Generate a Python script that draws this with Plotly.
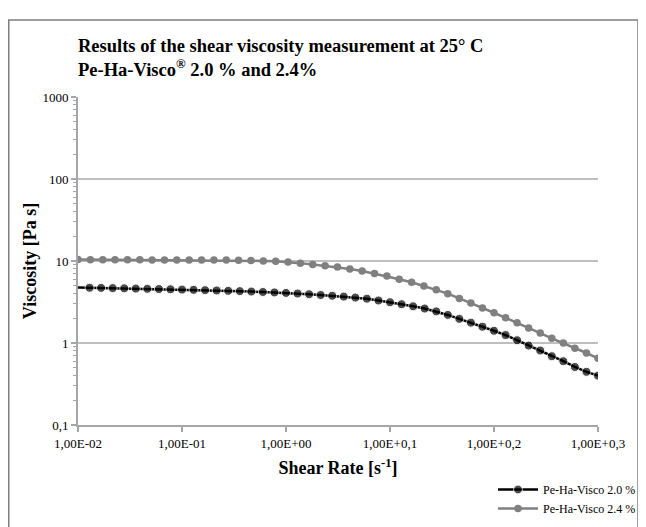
import plotly.graph_objects as go

# ---- data ----
shear_rate_20 = [0.01, 0.01292, 0.01668, 0.02154, 0.02783, 0.03594, 0.04642, 0.05995, 0.07743,
                 0.1, 0.1292, 0.1668, 0.2154, 0.2783, 0.3594, 0.4642, 0.5995, 0.7743,
                 1.0, 1.292, 1.668, 2.154, 2.783, 3.594, 4.642, 5.995, 7.743,
                 10.0, 12.92, 16.68, 21.54, 27.83, 35.94, 46.42, 59.95, 77.43,
                 100.0, 129.2, 166.8, 215.4, 278.3, 359.4, 464.2, 599.5, 774.3, 1000.0]
visc_20 = [4.75, 4.72, 4.70, 4.67, 4.64, 4.61, 4.58, 4.55, 4.52,
           4.48, 4.45, 4.41, 4.37, 4.33, 4.29, 4.24, 4.19, 4.14,
           4.08, 4.01, 3.93, 3.85, 3.77, 3.68, 3.58, 3.47, 3.30,
           3.14, 2.97, 2.80, 2.63, 2.43, 2.20, 1.97, 1.77, 1.58,
           1.41, 1.25, 1.08, 0.93, 0.81, 0.69, 0.60, 0.51, 0.445, 0.40]

shear_rate_24 = [0.01, 0.01315, 0.0173, 0.0227, 0.0299, 0.0393, 0.0516, 0.0679, 0.0891,
                 0.1172, 0.1542, 0.2028, 0.2667, 0.3499, 0.4603, 0.6053, 0.7962,
                 1.047, 1.374, 1.807, 2.377, 3.126, 4.111, 5.395, 7.096, 9.333,
                 12.27, 16.14, 21.18, 27.83, 35.94, 46.42, 59.95, 77.43,
                 100.0, 129.2, 166.8, 215.4, 278.3, 359.4, 464.2, 599.5, 774.3, 1000.0]
visc_24 = [10.4, 10.38, 10.36, 10.35, 10.34, 10.33, 10.32, 10.31, 10.3,
           10.29, 10.28, 10.27, 10.25, 10.2, 10.12, 10.02, 9.9,
           9.72, 9.42, 9.08, 8.75, 8.45, 8.0, 7.57, 7.05, 6.56,
           6.0, 5.5, 4.97, 4.47, 4.0, 3.5, 3.08, 2.68,
           2.34, 2.03, 1.77, 1.52, 1.32, 1.14, 1.0, 0.86, 0.755, 0.65]

x_tickvals = [0.01, 0.1, 1, 10, 100, 1000]
x_ticktext = ["1,00E-02", "1,00E-01", "1,00E+00", "1,00E+0,1", "1,00E+0,2", "1,00E+0,3"]
y_tickvals = [0.1, 1, 10, 100, 1000]
y_ticktext = ["0,1", "1", "10", "100", "1000"]
y_minor = [m * 10 ** e for e in (-1, 0, 1, 2) for m in range(2, 10)]

series_names = ["Pe-Ha-Visco 2.0 %", "Pe-Ha-Visco 2.4 %"]

FONT = "Liberation Serif"
AXIS_COL = "#A6A6A6"

fig = go.Figure()
fig.add_trace(go.Scatter(
    x=shear_rate_20, y=visc_20, name=series_names[0], mode="lines+markers",
    line=dict(color="#000000", width=2.5),
    marker=dict(color="#000000", size=[0] + [9] * (len(visc_20) - 1)),
))
fig.add_trace(go.Scatter(
    x=shear_rate_24, y=visc_24, name=series_names[1], mode="lines+markers",
    line=dict(color="#808080", width=2.5),
    marker=dict(color="#808080", size=7.5),
))

# figure sits 8px inside the page (body margin), so work in figure pixels
W, H = 638, 519
L, T = 70, 89
pw, ph = 520, 328
R, B = W - L - pw, H - T - ph

def px_x(px):
    return (px - L) / pw

def px_y(py):
    return (T + ph - py) / ph

fig.update_layout(
    width=W, height=H,
    margin=dict(l=L, r=R, t=T, b=B, autoexpand=False),
    paper_bgcolor="white", plot_bgcolor="white",
    font=dict(family=FONT, color="#000000"),
    title=dict(
        text="Results of the shear viscosity measurement at 25° C<br>Pe-Ha-Visco<sup>®</sup> 2.0 % and 2.4%",
        font=dict(family=FONT, size=18.5, color="#000000", weight="bold"),
        x=L / W, xanchor="left", y=1 - 44 / H, yanchor="top",
    ),
    xaxis=dict(
        type="log", range=[-2, 3], automargin=False,
        tickmode="array", tickvals=x_tickvals, ticktext=x_ticktext,
        tickfont=dict(family=FONT, size=13),
        showgrid=False, zeroline=False,
        showline=True, linecolor=AXIS_COL, linewidth=2,
        ticks="outside", ticklen=5, tickwidth=2, tickcolor=AXIS_COL,
        title=dict(text="<b>Shear Rate [s<sup>-1</sup>]</b>", font=dict(family=FONT, size=18), standoff=12),
    ),
    yaxis=dict(
        type="log", range=[-1, 3], automargin=False,
        tickmode="array", tickvals=y_tickvals, ticktext=y_ticktext,
        tickfont=dict(family=FONT, size=13),
        showgrid=True, gridcolor="#BFBFBF", gridwidth=2, zeroline=False,
        showline=True, linecolor=AXIS_COL, linewidth=2,
        ticks="outside", ticklen=5, tickwidth=2, tickcolor=AXIS_COL,
        minor=dict(tickmode="array", tickvals=y_minor, ticks="outside", ticklen=3,
                   tickwidth=1, tickcolor=AXIS_COL, showgrid=False),
        title=dict(text="<b>Viscosity [Pa s]</b>", font=dict(family=FONT, size=18), standoff=1),
    ),
    legend=dict(
        x=px_x(633), xanchor="right", y=px_y(467), yanchor="top",
        font=dict(family=FONT, size=12), bgcolor="rgba(0,0,0,0)",
        itemwidth=40, tracegroupgap=0,
    ),
    showlegend=True,
    shapes=[dict(type="rect", xref="paper", yref="paper",
                 x0=px_x(0.75), x1=px_x(630), y0=px_y(560), y1=px_y(12),
                 line=dict(color="#7F7F7F", width=1.5), fillcolor="rgba(0,0,0,0)", layer="below")],
)

fig.write_html("out.html")
